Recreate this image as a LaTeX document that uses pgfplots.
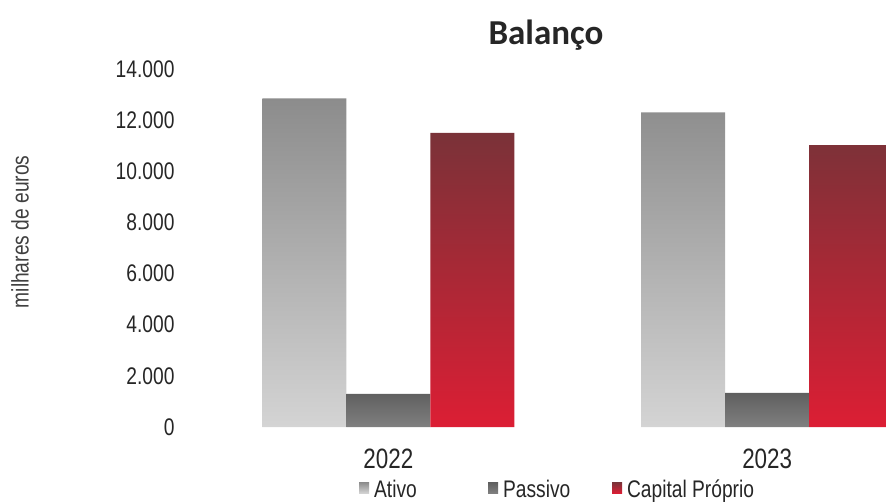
\documentclass[border=0pt]{standalone}
\usepackage{fontspec}
\setmainfont{Liberation Sans}[FakeStretch=0.8]
\newfontfamily\titlefont{Carlito}
\usepackage{pgfplots}
\pgfplotsset{compat=1.18}
\definecolor{atTop}{RGB}{140,140,140}
\definecolor{atBot}{RGB}{212,212,212}
\definecolor{paTop}{RGB}{95,95,95}
\definecolor{paBot}{RGB}{128,128,128}
\definecolor{caTop}{RGB}{122,50,56}
\definecolor{caBot}{RGB}{220,30,52}
\pgfplotsset{
  sqleg/.style={legend image code/.code={\fill[##1,draw=none] (0pt,-4pt) rectangle (10pt,7pt); \path (13pt,0pt);}},
}
\begin{document}
\begin{tikzpicture}
\useasboundingbox (-199pt,-74pt) rectangle (687pt,427pt);
\begin{axis}[
  at={(0pt,0pt)}, anchor=south west,
  scale only axis, width=687pt, height=358pt,
  xmin=-0.5, xmax=1.3136, ymin=0, ymax=14000, enlargelimits=false,
  ytick={0,2000,4000,6000,8000,10000,12000,14000},
  scaled y ticks=false,
  yticklabel={\pgfmathprintnumber[fixed,precision=0,1000 sep={.},assume math mode=true]{\tick}},
  xtick={0,1}, xticklabels={2022,2023},
  axis line style={draw=none}, tick style={draw=none},
  major tick length=0pt,
  yticklabel style={font=\fontsize{24}{28}\selectfont, text=black!85, xshift=-21pt},
  xticklabel style={font=\fontsize{28}{32}\selectfont, text=black!85, anchor=base, yshift=-41pt},
  ylabel={milhares de euros},
  ylabel style={at={(axis description cs:-0.2606,0.545)}, anchor=center, font=\fontsize{24}{28}\selectfont, text=black!75},
  title={\titlefont\bfseries Balanço},
  title style={at={(axis description cs:0.505,1.053)}, anchor=base, font=\fontsize{35}{40}\selectfont, text=black!85},
  legend columns=3,
  legend style={at={(axis description cs:0.522,-0.174)}, anchor=center, draw=none, fill=none,
    /tikz/column sep=0pt, font=\fontsize{24}{28}\selectfont, text=black!85,
    nodes={inner sep=2pt}},
  clip=true,
]
\addplot[ybar, bar width=84pt, bar shift=-84pt, draw=none, top color=atTop, bottom color=atBot, sqleg]
  coordinates {(0,12850) (1,12300)};
\addlegendentry{\makebox[112pt][l]{Ativo}}
\addplot[ybar, bar width=84pt, bar shift=0pt, draw=none, top color=paTop, bottom color=paBot, sqleg]
  coordinates {(0,1300) (1,1330)};
\addlegendentry{\makebox[107pt][l]{Passivo}}
\addplot[ybar, bar width=84pt, bar shift=84pt, draw=none, top color=caTop, bottom color=caBot, sqleg]
  coordinates {(0,11500) (1,11020)};
\addlegendentry{Capital Próprio}
\end{axis}
\end{tikzpicture}
\end{document}
